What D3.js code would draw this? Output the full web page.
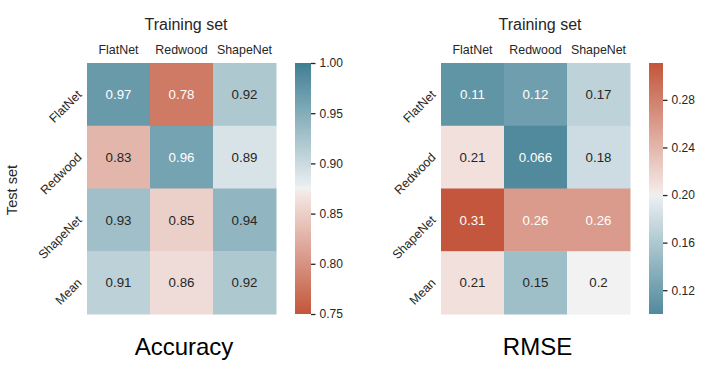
<!DOCTYPE html>
<html>
<head>
<meta charset="utf-8">
<script src="https://cdn.jsdelivr.net/npm/d3@7"></script>
<style>
  body { margin: 0; background: #fff; }
  svg { display: block; font-family: "Liberation Sans", Arial, sans-serif; }
</style>
</head>
<body>
<div id="chart"></div>
<script>
// 数据
const trainSets = ['FlatNet', 'Redwood', 'ShapeNet'];
const testSets = ['FlatNet', 'Redwood', 'ShapeNet', 'Mean'];
const accuracy = [
  [0.97, 0.78, 0.92],
  [0.83, 0.96, 0.89],
  [0.93, 0.85, 0.94],
  [0.91, 0.86, 0.92]
];
const rmse = [
  [0.11, 0.12, 0.17],
  [0.21, 0.066, 0.18],
  [0.31, 0.26, 0.26],
  [0.21, 0.15, 0.2]
];
const accTicks = [0.75, 0.80, 0.85, 0.90, 0.95, 1.00];
const rmseTicks = [0.12, 0.16, 0.20, 0.24, 0.28];

const W = 711, H = 365;
const TEXT = '#262626';
// seaborn diverging_palette(220, 20) 近似：两端在 RGB 中线性混合到浅灰
const divergent = d3.scaleLinear()
  .domain([-1, -0.008, 0, 0.008, 1])
  .range(['#3f7f93', '#ebf0f2', '#f2f2f2', '#f5eceb', '#c3553a'])
  .interpolate(d3.interpolateRgb)
  .clamp(true);

const svg = d3.select('#chart').append('svg')
  .attr('width', W).attr('height', H);
const defs = svg.append('defs');

function luminance(c) {
  const rgb = d3.rgb(c);
  const lin = v => { v /= 255; return v <= 0.03928 ? v / 12.92 : Math.pow((v + 0.055) / 1.055, 2.4); };
  return 0.2126 * lin(rgb.r) + 0.7152 * lin(rgb.g) + 0.0722 * lin(rgb.b);
}

/**
 * 绘制一个热力图及其色条
 */
function drawHeatmap(opt) {
  const g = svg.append('g');
  const x = d3.scaleBand().domain(trainSets).range([opt.x0, opt.x1]);
  const y = d3.scaleBand().domain(testSets).range([63, 314]);
  const color = v => divergent(opt.toT(v));

  const cells = [];
  opt.data.forEach((row, i) => row.forEach((v, j) => cells.push({ v, row: testSets[i], col: trainSets[j] })));

  g.selectAll('rect.cell').data(cells).enter().append('rect')
    .attr('class', 'cell')
    .attr('x', d => x(d.col)).attr('y', d => y(d.row))
    .attr('width', x.bandwidth() + 0.5).attr('height', y.bandwidth() + 0.5)
    .attr('fill', d => color(d.v));

  g.selectAll('text.annot').data(cells).enter().append('text')
    .attr('class', 'annot')
    .attr('x', d => x(d.col) + x.bandwidth() / 2)
    .attr('y', d => y(d.row) + y.bandwidth() / 2)
    .attr('dy', '0.35em')
    .attr('text-anchor', 'middle')
    .attr('font-size', '13.3px')
    .attr('fill', d => luminance(color(d.v)) < 0.408 ? '#ffffff' : TEXT)
    .text(d => d3.format('.2~g')(d.v));

  // 列标签
  g.selectAll('text.col').data(trainSets).enter().append('text')
    .attr('x', d => x(d) + x.bandwidth() / 2)
    .attr('y', 54)
    .attr('text-anchor', 'middle')
    .attr('font-size', '12.4px')
    .attr('fill', TEXT)
    .text(d => d);

  // 行标签（旋转45度）
  g.selectAll('text.row').data(testSets).enter().append('text')
    .attr('transform', d => `translate(${opt.x0 - 4.5},${y(d) + y.bandwidth() / 2 + 1}) rotate(-45)`)
    .attr('text-anchor', 'end')
    .attr('font-size', '12.4px')
    .attr('fill', TEXT)
    .text(d => d);

  g.append('text')
    .attr('x', (opt.x0 + opt.x1) / 2 + 4.5)
    .attr('y', 30)
    .attr('text-anchor', 'middle')
    .attr('font-size', '16px')
    .attr('fill', TEXT)
    .text('Training set');

  g.append('text')
    .attr('x', opt.titleX)
    .attr('y', 355)
    .attr('text-anchor', 'middle')
    .attr('font-size', '24px')
    .attr('fill', '#000')
    .text(opt.title);

  // 色条
  const cb = d3.scaleLinear().domain(opt.cbDomain).range([314, 63]);
  const gradId = 'grad-' + opt.id;
  const grad = defs.append('linearGradient').attr('id', gradId)
    .attr('x1', 0).attr('y1', 1).attr('x2', 0).attr('y2', 0);
  d3.range(0, 1.0001, 0.01).forEach(p => {
    const v = opt.cbDomain[0] + p * (opt.cbDomain[1] - opt.cbDomain[0]);
    grad.append('stop').attr('offset', p).attr('stop-color', color(v));
  });
  g.append('rect')
    .attr('x', opt.cbX).attr('y', 63)
    .attr('width', opt.cbW).attr('height', 251)
    .attr('fill', `url(#${gradId})`);

  const axis = d3.axisRight(cb).tickValues(opt.ticks)
    .tickFormat(d3.format('.2f')).tickSize(4.5).tickPadding(4);
  const ag = g.append('g')
    .attr('transform', `translate(${opt.cbX + opt.cbW},0)`)
    .call(axis);
  ag.select('.domain').remove();
  ag.selectAll('line').attr('stroke', TEXT).attr('stroke-width', 1.3);
  ag.selectAll('text').attr('font-size', '12px').attr('fill', TEXT)
    .attr('font-family', '"Liberation Sans", Arial, sans-serif');
}

drawHeatmap({
  id: 'acc', x0: 87, x1: 276, data: accuracy, title: 'Accuracy', titleX: 184,
  toT: v => -(v - 0.875) / 0.125,
  cbDomain: [0.75, 1.0], ticks: accTicks, cbX: 295, cbW: 16
});

drawHeatmap({
  id: 'rmse', x0: 441, x1: 630, data: rmse, title: 'RMSE', titleX: 537.5,
  toT: v => (Math.max(v, 0.1) - 0.2) / 0.111,
  cbDomain: [0.1, 0.311], ticks: rmseTicks, cbX: 649, cbW: 14
});

// 纵轴标题
svg.append('text')
  .attr('transform', 'translate(17,190) rotate(-90)')
  .attr('text-anchor', 'middle')
  .attr('font-size', '14.6px')
  .attr('fill', TEXT)
  .text('Test set');
</script>
</body>
</html>
